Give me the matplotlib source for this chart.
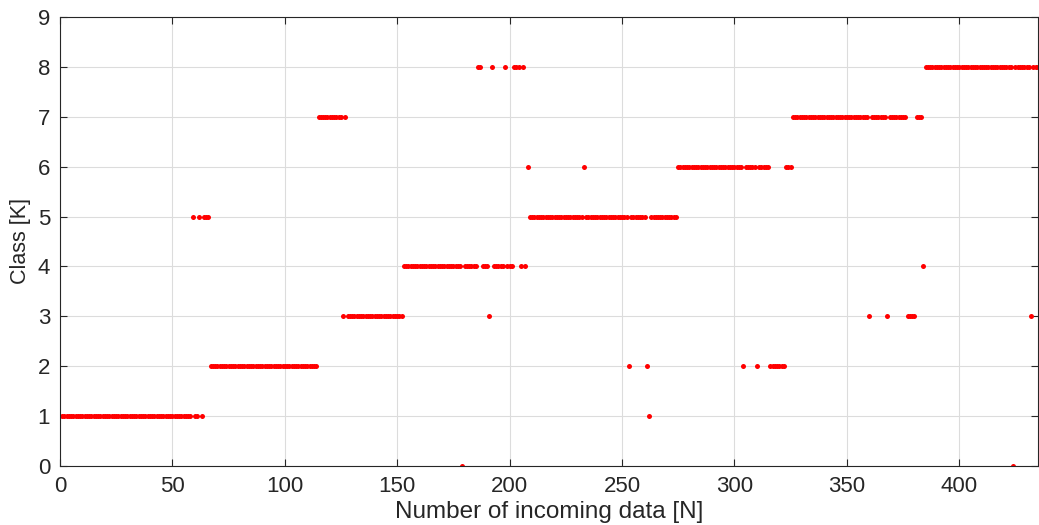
import numpy as np
import matplotlib
matplotlib.use('Agg')
import matplotlib.pyplot as plt

# Class assignments, stored as runs (class, number of consecutive samples)
run_class = [1, 5, 1, 5, 1, 5, 2, 7, 3, 7, 3, 4, 0, 4, 8, 4, 3, 8, 4, 8,
             4, 8, 4, 8, 4, 6, 5, 6, 5, 2, 5, 2, 1, 5, 6, 2, 6, 2, 6, 2,
             6, 7, 3, 7, 3, 7, 3, 7, 4, 8, 0, 8, 3, 8]
run_length = [58, 1, 2, 1, 1, 3, 48, 11, 1, 1, 25, 26, 1, 6, 2, 3, 1, 1, 5, 1,
              3, 3, 1, 1, 1, 1, 24, 1, 19, 1, 7, 1, 1, 12, 29, 1, 5, 1, 5, 7,
              3, 34, 1, 7, 1, 8, 4, 3, 1, 39, 1, 7, 1, 3]

classes = np.repeat(run_class, run_length)
samples = np.arange(1, len(classes) + 1)

plt.rcParams['font.family'] = ['Liberation Sans', 'DejaVu Sans']

fig = plt.figure(figsize=(10.39, 5.25), dpi=100)
ax = fig.add_axes([0.0577, 0.1124, 0.9413, 0.8552])

ax.plot(samples, classes, linestyle='none', marker='o', markersize=3.6,
        color='#ff0000', markeredgewidth=0)

ax.set_xlim(0, 435)
ax.set_ylim(0, 9)
ax.set_xticks(np.arange(0, 401, 50))
ax.set_yticks(np.arange(0, 10, 1))
ax.grid(True, color='#dcdcdc', linewidth=0.8)
ax.set_axisbelow(True)

ax.tick_params(direction='in', length=5, width=0.8, top=True, right=True,
               labelsize=16, colors='#262626', pad=7)
for s in ax.spines.values():
    s.set_color('#262626')
    s.set_linewidth(0.8)

ax.set_xlabel('Number of incoming data [N]', fontsize=17.5, color='#262626', labelpad=3)
ax.set_ylabel('Class [K]', fontsize=15.5, color='#262626', labelpad=5)

fig.savefig('out.png', dpi=100)
